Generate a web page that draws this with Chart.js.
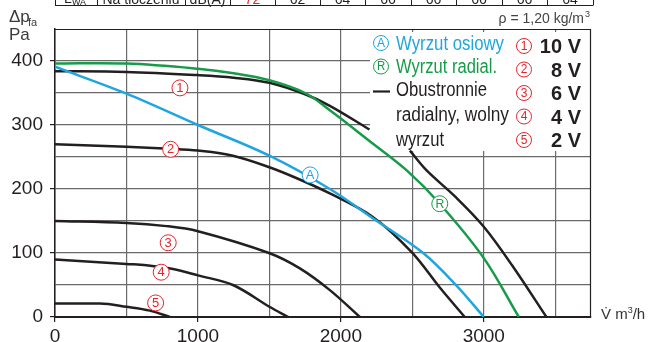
<!DOCTYPE html>
<html>
<head>
<meta charset="utf-8">
<script src="https://cdn.jsdelivr.net/npm/chart.js@4.4.0/dist/chart.umd.min.js"></script>
<style>
  html, body { margin: 0; padding: 0; background: #fff; }
  #wrap { width: 651px; height: 342px; position: relative; overflow: hidden; }
</style>
</head>
<body>
<div id="wrap"><canvas id="c" width="651" height="342"></canvas></div>
<script>
// Fan characteristic: static pressure Δp_fa [Pa] against air flow V̇ [m³/h]

// Axial outlet (A)
const flowA  = [0, 500, 1000, 1500, 1923, 2226, 2576, 2809, 3000];
const pressA = [391, 349, 300, 252, 200, 154, 100, 49, 0];

// Radial outlet (R)
const flowR  = [0, 500, 1000, 1250, 1500, 1750, 1923, 2200, 2461, 2692, 3000, 3245];
const pressR = [396, 396, 388, 381, 370, 350, 323, 275, 229, 177, 92, 0];

// Free radial outlet on both sides, 10 V (hidden behind the legend between the two parts)
const flow10a  = [0, 500, 1000, 1250, 1500, 1750, 1923, 2200];
const press10a = [384, 383, 378, 374, 366, 348, 330, 293];
const flow10b  = [2483, 2600, 2800, 3000, 3200, 3438];
const press10b = [260, 229, 188, 141, 80, 0];

// 8 V
const flow8  = [0, 500, 800, 1000, 1245, 1500, 1700, 1923, 2226, 2497, 2692, 2867];
const press8 = [270, 266, 263, 260, 252, 234, 216, 193, 156, 101, 46, 0];

// 6 V
const flow6  = [0, 500, 780, 1000, 1497, 1713, 1923, 2133];
const press6 = [150, 147, 142, 134, 100, 76, 42, 0];

// 4 V
const flow4  = [0, 500, 640, 826, 1000, 1245, 1500, 1632];
const press4 = [90, 83, 81, 75, 65, 50, 16, 0];

// 2 V
const flow2  = [0, 315, 500, 664, 804];
const press2 = [21, 21, 16, 10, 0];

// Curve markers placed on the plot
const markerText  = ['1', '2', '3', '4', '5', 'A', 'R'];
const markerFlow  = [874, 809, 792, 743, 704, 1785, 2692];
const markerPress = [358, 262, 116, 70, 22, 222, 177];

// Axis grid and labels
const xGrid   = [0, 500, 1000, 1500, 2000, 2500, 3000, 3500];
const xLabels = [0, 1000, 2000, 3000];
const yGrid   = [0, 50, 100, 150, 200, 250, 300, 350, 400];
const yLabels = [0, 100, 200, 300, 400];

// Voltage legend
const voltText = ['10 V', '8 V', '6 V', '4 V', '2 V'];

// Sound power row above the diagram
const tableHead = ['L', 'Na tłoczeniu', 'dB(A)'];
const tableVals = ['72', '62', '64', '66', '66', '66', '66', '64'];

const INK = '#231f20';
const BLUE = '#1fa6e0';
const GREEN = '#179b4a';
const RED = '#e5242b';
const GRID = '#6a6a6a';
const SANS = '"Liberation Sans", Arial, sans-serif';

const pts = (xs, ys) => xs.map((x, i) => ({ x: x, y: ys[i] }));

function line(data, color, monotone) {
  const ds = {
    data: data,
    borderColor: color,
    borderWidth: 2.5,
    pointRadius: 0,
    fill: false,
    tension: 0.35,
    borderCapStyle: 'butt'
  };
  if (monotone) ds.cubicInterpolationMode = 'monotone';
  return ds;
}

function badge(ctx, x, y, txt, color, r, size) {
  ctx.beginPath();
  ctx.arc(x, y, r, 0, Math.PI * 2);
  ctx.fillStyle = '#fff';
  ctx.fill();
  ctx.lineWidth = 1;
  ctx.strokeStyle = color;
  ctx.stroke();
  ctx.fillStyle = color;
  ctx.font = size + 'px ' + SANS;
  ctx.textAlign = 'center';
  ctx.textBaseline = 'middle';
  ctx.fillText(txt, x, y + 0.5, r * 1.1);
}

// condensed legend text: natural font squeezed to the given width
function narrowText(ctx, txt, x, y, w) {
  ctx.fillText(txt, x, y, w);
}

const decorations = {
  id: 'decorations',
  beforeDatasetsDraw(chart) {
    // white panel carrying the legend
    const ctx = chart.ctx;
    ctx.save();
    ctx.fillStyle = '#fff';
    ctx.fillRect(370, 32, chart.chartArea.right - 370, 119);
    ctx.restore();
  },
  afterDatasetsDraw(chart) {
    const ctx = chart.ctx;
    const xs = chart.scales.x, ys = chart.scales.y;
    ctx.save();
    markerText.forEach((t, i) => {
      const color = t === 'A' ? BLUE : (t === 'R' ? GREEN : RED);
      badge(ctx, xs.getPixelForValue(markerFlow[i]), ys.getPixelForValue(markerPress[i]), t, color, 8, 13);
    });
    ctx.restore();
  },
  afterDraw(chart) {
    const ctx = chart.ctx;
    const a = chart.chartArea;
    ctx.save();

    // frame top and right
    ctx.strokeStyle = INK;
    ctx.lineWidth = 1.2;
    ctx.beginPath();
    ctx.moveTo(a.left, a.top + 0.5);
    ctx.lineTo(a.right - 0.5, a.top + 0.5);
    ctx.lineTo(a.right - 0.5, a.bottom);
    ctx.stroke();

    // table row cut at the top edge
    const cellX = [55, 97, 185, 230, 275, 320, 365, 411, 456, 502, 547, 593];
    ctx.lineWidth = 1;
    ctx.beginPath();
    ctx.moveTo(55, 5.5); ctx.lineTo(593, 5.5);
    cellX.forEach(x => { ctx.moveTo(x + 0.5, 0); ctx.lineTo(x + 0.5, 5.5); });
    ctx.stroke();
    ctx.textAlign = 'center';
    ctx.textBaseline = 'alphabetic';
    ctx.font = '14px ' + SANS;
    ctx.fillStyle = INK;
    ctx.fillText(tableHead[0], 68, 3);
    ctx.font = '9px ' + SANS;
    ctx.fillText('WA', 79, 5);
    ctx.font = '14px ' + SANS;
    ctx.fillText(tableHead[1], (cellX[1] + cellX[2]) / 2, 3.5, 78);
    ctx.fillText(tableHead[2], (cellX[2] + cellX[3]) / 2, 3.5, 38);
    tableVals.forEach((v, i) => {
      ctx.fillStyle = i === 0 ? RED : INK;
      ctx.fillText(v, (cellX[i + 3] + cellX[i + 4]) / 2, 3.5);
    });

    // axis titles
    ctx.fillStyle = '#3a3a3a';
    ctx.textAlign = 'left';
    ctx.font = '17px ' + SANS;
    ctx.fillText('Δp', 9, 22);
    ctx.font = '11px ' + SANS;
    ctx.fillText('fa', 28, 26);
    ctx.font = '17px ' + SANS;
    ctx.fillText('Pa', 9, 40);

    ctx.fillStyle = '#444';
    ctx.textAlign = 'right';
    ctx.font = '14px ' + SANS;
    ctx.fillText('ρ = 1,20 kg/m', 584, 23);
    ctx.font = '9px ' + SANS;
    ctx.fillText('3', 590, 17);

    ctx.fillStyle = '#333';
    ctx.textAlign = 'left';
    ctx.font = '15px ' + SANS;
    ctx.fillText('V\u0307 m', 601, 319);
    const mw = ctx.measureText('V\u0307 m').width;
    ctx.font = '9px ' + SANS;
    ctx.fillText('3', 601 + mw, 313);
    ctx.font = '15px ' + SANS;
    ctx.fillText('/h', 601 + mw + 5, 319);

    // legend: outlet types
    badge(ctx, 381, 43, 'A', BLUE, 7.5, 12);
    badge(ctx, 381, 66.5, 'R', GREEN, 7.5, 12);
    ctx.textAlign = 'left';
    ctx.textBaseline = 'alphabetic';
    ctx.font = '20px ' + SANS;
    ctx.fillStyle = BLUE;
    narrowText(ctx, 'Wyrzut osiowy', 396, 49.5, 108);
    ctx.fillStyle = GREEN;
    narrowText(ctx, 'Wyrzut radial.', 396, 72.5, 101);
    ctx.strokeStyle = INK;
    ctx.lineWidth = 2.2;
    ctx.beginPath();
    ctx.moveTo(373, 91.5); ctx.lineTo(390, 91.5);
    ctx.stroke();
    ctx.fillStyle = INK;
    narrowText(ctx, 'Obustronnie', 396, 96, 91);
    narrowText(ctx, 'radialny, wolny', 396, 120.5, 113);
    narrowText(ctx, 'wyrzut', 396, 146, 48);

    // legend: control voltage
    const rowY = [46, 69.5, 93, 116.5, 140];
    const baseY = [53, 76.5, 100, 123.5, 147];
    voltText.forEach((t, i) => {
      badge(ctx, 524, rowY[i], String(i + 1), RED, 7.5, 12);
      ctx.textAlign = 'right';
      ctx.textBaseline = 'alphabetic';
      ctx.font = 'bold 20px ' + SANS;
      ctx.fillStyle = INK;
      ctx.fillText(t, 581, baseY[i]);
    });
    ctx.restore();
  }
};

new Chart(document.getElementById('c'), {
  type: 'line',
  data: {
    datasets: [
      line(pts(flowR, pressR), GREEN),
      line(pts(flowA, pressA), BLUE),
      line(pts(flow10a, press10a), INK),
      line(pts(flow10b, press10b), INK),
      line(pts(flow8, press8), INK),
      line(pts(flow6, press6), INK),
      line(pts(flow4, press4), INK),
      line(pts(flow2, press2), INK, true)
    ]
  },
  options: {
    responsive: false,
    animation: false,
    devicePixelRatio: 1,
    layout: { padding: { top: 29, right: 60, left: 0, bottom: 0 } },
    plugins: { legend: { display: false }, tooltip: { enabled: false } },
    scales: {
      x: {
        type: 'linear',
        min: 0,
        max: 3750,
        afterBuildTicks: s => { s.ticks = xGrid.map(v => ({ value: v })); },
        afterFit: s => { s.height = 25; },
        grid: {
          color: GRID,
          lineWidth: 1.2,
          tickLength: 5,
          tickColor: c => (c.tick && xLabels.includes(c.tick.value)) ? INK : 'rgba(0,0,0,0)'
        },
        border: { display: true, color: INK, width: 2 },
        ticks: {
          autoSkip: false,
          maxRotation: 0,
          padding: 3,
          color: INK,
          font: { family: 'Liberation Sans', size: 19 },
          callback: v => xLabels.includes(v) ? String(v) : ''
        }
      },
      y: {
        type: 'linear',
        min: 0,
        max: 450,
        afterBuildTicks: s => { s.ticks = yGrid.map(v => ({ value: v })); },
        afterFit: s => { s.width = 55; },
        grid: {
          color: GRID,
          lineWidth: 1.2,
          tickLength: 5,
          tickColor: c => (c.tick && yLabels.includes(c.tick.value)) ? INK : 'rgba(0,0,0,0)'
        },
        border: { display: true, color: INK, width: 1.5 },
        ticks: {
          autoSkip: false,
          padding: 7,
          color: INK,
          font: { family: 'Liberation Sans', size: 19 },
          callback: v => yLabels.includes(v) ? String(v) : ''
        }
      }
    }
  },
  plugins: [decorations]
});
</script>
</body>
</html>
